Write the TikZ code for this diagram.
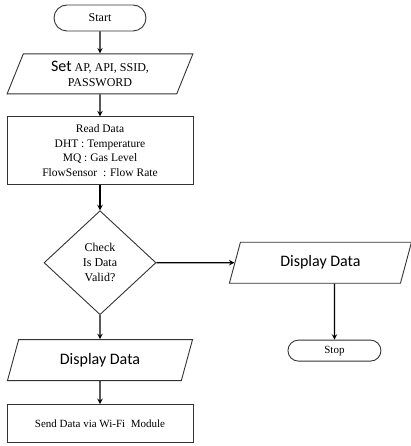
\documentclass[tikz,border=0pt]{standalone}
\usepackage{fontspec}
\setmainfont{Liberation Serif}
\newfontfamily\calibri{Carlito}
\usetikzlibrary{positioning,shapes.geometric,shapes.misc}

\begin{document}
\begin{tikzpicture}[x=1pt, y=1pt, node distance=22pt, auto,
    term/.style={rounded rectangle, draw=black!80, line width=0.9pt, minimum width=92pt, inner sep=0pt, font=\fontsize{12}{14}\selectfont},
    io/.style={trapezium, trapezium left angle=68, trapezium right angle=112, trapezium stretches=true, draw=black!80, line width=0.9pt, minimum width=186pt, minimum height=40pt, inner sep=0pt, align=center},
    proc/.style={rectangle, draw=black!80, line width=0.9pt, minimum width=186pt, inner sep=0pt, align=center, font=\fontsize{11.5}{14.5}\selectfont},
    dec/.style={diamond, draw=black!80, line width=0.9pt, minimum width=112pt, minimum height=104pt, inner sep=0pt, align=center, font=\fontsize{12}{15}\selectfont},
    disp/.style={font=\calibri\fontsize{16}{18}\selectfont}]

    \useasboundingbox (0,0) rectangle (410,-446);

    \node [term, minimum height=26pt] (start) at (100,-18) {Start};
    \node [io, below=22pt of start, font=\fontsize{12}{15}\selectfont] (set) {{\calibri\fontsize{16}{15}\selectfont Set} AP, API, SSID,\\PASSWORD};
    \node [proc, below=22pt of set, minimum height=68pt] (read) {Read Data\\DHT : Temperature\\MQ : Gas Level\\FlowSensor\ \ : Flow Rate};
    \node [dec, below=25pt of read] (check) {Check\\Is Data\\Valid?};
    \node [io, disp, below=24pt of check, minimum height=41pt] (dispa) {Display Data};
    \node [proc, below=23pt of dispa, minimum height=38pt, font=\fontsize{11}{13}\selectfont] (send) {Send Data via Wi-Fi\ \ Module};

    \node [io, disp, right=78pt of check, minimum width=183pt, minimum height=41pt] (dispb) {Display Data};
    \node [term, below=56pt of dispb, xshift=14pt, minimum width=93pt, minimum height=21pt, font=\fontsize{11}{13}\selectfont] (stop) {Stop};

    \draw [->, >=stealth, line width=1.4pt] (start) -- (set);
    \draw [->, >=stealth, line width=1.4pt] (set) -- (read);
    \draw [->, >=stealth, line width=1.4pt] (read) -- (check);
    \draw [->, >=stealth, line width=1.4pt] (check) -- (dispa);
    \draw [->, >=stealth, line width=1.4pt] (dispa) -- (send);
    \draw [->, >=stealth, line width=1.4pt] (check.east) -- (dispb);
    \draw [->, >=stealth, line width=1.4pt] (stop.north |- dispb.south) -- (stop);
\end{tikzpicture}
\end{document}
